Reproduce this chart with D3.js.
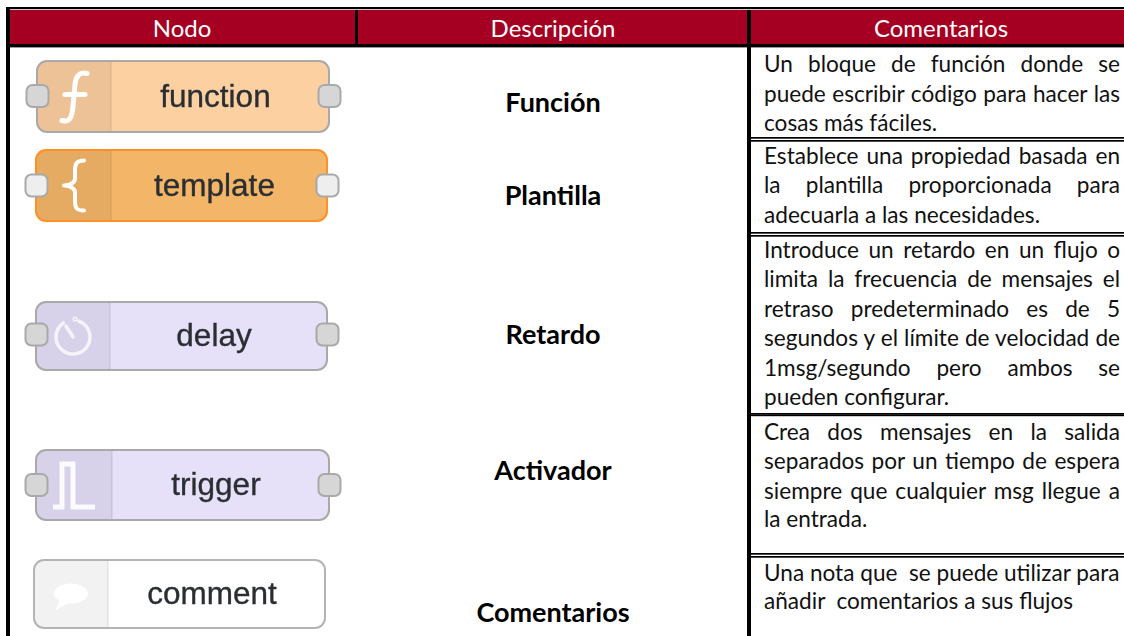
<!DOCTYPE html>
<html><head><meta charset="utf-8">
<script src="https://cdn.jsdelivr.net/npm/d3@7"></script>
<style>html,body{margin:0;padding:0;background:#fff}svg{display:block}</style>
</head><body><div id="c"></div>
<script>
const headers = ["Nodo","Descripción","Comentarios"];
const nodeNames = ["function","template","delay","trigger","comment"];
const descriptions = ["Función","Plantilla","Retardo","Activador","Comentarios"];
const comments = [
 [["Un bloque de función donde se",1],["puede escribir código para hacer las",1],["cosas más fáciles.",0]],
 [["Establece una propiedad basada en",1],["la plantilla proporcionada para",1],["adecuarla a las necesidades.",0]],
 [["Introduce un retardo en un flujo o",1],["limita la frecuencia de mensajes el",1],["retraso predeterminado es de 5",1],["segundos y el límite de velocidad de",1],["1msg/segundo pero ambos se",1],["pueden configurar.",0]],
 [["Crea dos mensajes en la salida",1],["separados por un tiempo de espera",1],["siempre que cualquier msg llegue a",1],["la entrada.",0]],
 [["Una nota que  se puede utilizar para",0],["añadir  comentarios a sus flujos",0]]
];

// layout and styling
const W=1124,H=636;
const font='Lato, Carlito, sans-serif';
const boxes=[
 {x0:37,x1:329,y0:61,y1:132,div:111,fill:"#fdd0a2",head:"#ecc296",stroke:"#a9a9a9",port:"#d6d6d6",ports:true,py:96},
 {x0:36,x1:327,y0:150,y1:221,div:111,fill:"#f3b567",head:"#e6ab62",stroke:"#ff8f26",port:"#eeeeee",ports:true,py:185.5},
 {x0:36,x1:327,y0:302,y1:370,div:110,fill:"#e6e0f8",head:"#d7d1e9",stroke:"#a9a9a9",port:"#d6d6d6",ports:true,py:334.5},
 {x0:36,x1:329,y0:450,y1:520,div:112,fill:"#e6e0f8",head:"#d7d1e9",stroke:"#a9a9a9",port:"#d6d6d6",ports:true,py:485},
 {x0:34,x1:325,y0:560,y1:628,div:108,fill:"#ffffff",head:"#f2f2f2",stroke:"#b4b4b4",port:"#d6d6d6",ports:false,py:594}
];
const descY=[112,205,344,480,622];
const baselines=[[72,101.5,131],[164,193,223],[258,287,317,346,376,405],[440,469,499,527],[581,609]];
const sepLines=[[137,140],[232,235],[413,414.5],[553,556]];

const svg=d3.select("#c").append("svg").attr("width",W).attr("height",H);
const defs=svg.append("defs");
defs.append("filter").attr("id","soft").append("feGaussianBlur").attr("stdDeviation",0.45);
const black="#000";
// header
svg.append("rect").attr("x",10).attr("y",10).attr("width",W-10).attr("height",34).attr("fill","#a50021");
const blk=(x,y,w,h)=>svg.append("rect").attr("x",x).attr("y",y).attr("width",w).attr("height",h).attr("fill",black);
blk(6,7,W-6,2.2); blk(6,44,W-6,3.4); blk(6,7,4,H-7);
blk(355,10,3,37); blk(747,10,4,H-10);
sepLines.forEach(([a,b])=>{blk(751,a,W-751,1.7); blk(751,b,W-751,1.7);});

const colCx=[182,553,941];
svg.selectAll("text.h").data(headers).join("text").attr("class","h")
  .attr("x",(d,i)=>colCx[i]).attr("y",37).attr("text-anchor","middle")
  .attr("font-family",font).attr("font-size",24).attr("fill","#fff").text(d=>d);
svg.selectAll("text.d").data(descriptions).join("text").attr("class","d")
  .attr("x",553).attr("y",(d,i)=>descY[i]).attr("text-anchor","middle")
  .attr("font-family",font).attr("font-weight",700).attr("font-size",27).attr("fill","#000").text(d=>d);

// comments, justified
const left=764,right=1120;
comments.forEach((lines,i)=>lines.forEach(([t,just],j)=>{
  const el=svg.append("text").attr("x",left).attr("y",baselines[i][j]).attr("xml:space","preserve")
    .style("white-space","pre").attr("font-family",font).attr("font-size",22.6).attr("fill","#111").text(t);
  if(just){
    const w=el.node().getComputedTextLength(); const n=(t.match(/ /g)||[]).length;
    el.attr("word-spacing",(right-left-w)/n);
  }
}));

// node glyphs
const g=svg.append("g").attr("filter","url(#soft)");
boxes.forEach((b,i)=>{
  const n=g.append("g");
  const r=10;
  n.append("rect").attr("x",b.x0).attr("y",b.y0).attr("width",b.x1-b.x0).attr("height",b.y1-b.y0).attr("rx",r).attr("fill",b.fill);
  n.append("path").attr("d",`M${b.div},${b.y0}H${b.x0+r}a${r},${r} 0 0 0 -${r},${r}V${b.y1-r}a${r},${r} 0 0 0 ${r},${r}H${b.div}Z`).attr("fill",b.head);
  n.append("line").attr("x1",b.div).attr("x2",b.div).attr("y1",b.y0).attr("y2",b.y1).attr("stroke","#000").attr("stroke-opacity",.1).attr("stroke-width",1.2);
  n.append("rect").attr("x",b.x0).attr("y",b.y0).attr("width",b.x1-b.x0).attr("height",b.y1-b.y0).attr("rx",r).attr("fill","none").attr("stroke",b.stroke).attr("stroke-width",2);
  if(b.ports){
    [b.x0-10.5,b.x1-10.5].forEach(px=>{
      n.append("rect").attr("x",px).attr("y",b.py-11).attr("width",22).attr("height",22).attr("rx",6).attr("fill",b.port).attr("stroke","#a9a9a9").attr("stroke-width",2);
    });
  }
  n.append("text").attr("x",(b.div+b.x1)/2-4.5).attr("y",(b.y0+b.y1)/2+10).attr("text-anchor","middle")
    .attr("font-family","'Liberation Sans',Arial,sans-serif").attr("font-size",31.5).attr("fill","#2a2f33")
    .attr("stroke","#2a2f33").attr("stroke-width",.35).text(nodeNames[i]);
  const ic=n.append("g").attr("fill","none").attr("stroke","#fff").attr("stroke-width",5).attr("stroke-linecap","round").attr("stroke-linejoin","round");
  const cy=(b.y0+b.y1)/2;
  if(i===0){
    ic.append("path").attr("d",`M87,${cy-23}C80,${cy-25} 76,${cy-21} 75,${cy-12}L73,${cy+10}C72,${cy+22} 69,${cy+26} 62,${cy+24}`);
    ic.append("path").attr("d",`M65,${cy-2}H85`);
  } else if(i===1){
    ic.attr("stroke-width",4).append("path").attr("d",`M84,${cy-25}C76,${cy-25} 75,${cy-21} 75,${cy-15}V${cy-7}C75,${cy-3} 70,${cy} 64,${cy}C70,${cy} 75,${cy+3} 75,${cy+7}V${cy+15}C75,${cy+22} 76,${cy+25} 84,${cy+25}`);
  } else if(i===2){
    ic.attr("stroke-opacity",.75).attr("stroke-width",3.5);
    ic.append("path").attr("d",d3.arc()({innerRadius:17,outerRadius:17,startAngle:0.35,endAngle:2*Math.PI-0.6})).attr("transform",`translate(73,${cy+1})`);
    ic.append("path").attr("d",`M66,${cy-10}L73,${cy+1}`);
    ic.append("circle").attr("cx",75).attr("cy",cy-17).attr("r",.8);
  } else if(i===3){
    ic.attr("stroke-linecap","butt").attr("stroke-linejoin","miter").attr("stroke-opacity",.9);
    ic.append("path").attr("d",`M53,${cy+22}H62V${cy-21}H73V${cy+22}H95`);
  } else {
    const bub=n.append("g").attr("fill","#fff");
    bub.append("ellipse").attr("cx",71).attr("cy",cy-.5).attr("rx",17).attr("ry",10);
    bub.append("path").attr("d",`M60,${cy+6}L55,${cy+16}L72,${cy+8}Z`);
  }
});
</script></body></html>
